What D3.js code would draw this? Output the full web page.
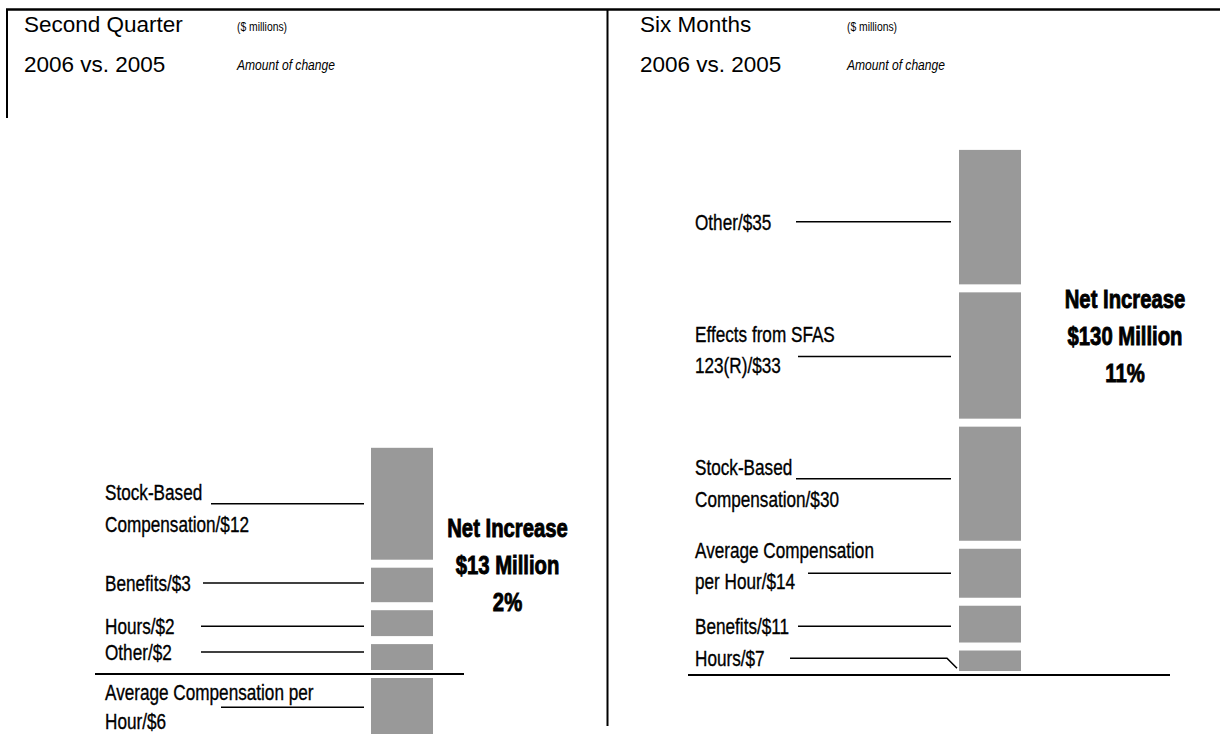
<!DOCTYPE html>
<html>
<head>
<meta charset="utf-8">
<script src="https://cdn.jsdelivr.net/npm/d3@7"></script>
<style>
  body { margin: 0; background: #fff; }
  svg { display: block; }
  text { font-family: "Liberation Sans", Arial, sans-serif; fill: #000; }
  text.label { stroke: #000; stroke-width: 0.35; }
  text.net { stroke: #000; stroke-width: 0.9; }
</style>
</head>
<body>
<svg id="chart" width="1220" height="734"></svg>
<script>
// ---- Data ($ millions, amount of change), bottom of each stack first ----
const quarterCategories = ["Other", "Hours", "Benefits", "Stock-Based Compensation", "Average Compensation per Hour"];
const quarterValues = [2, 2, 3, 12, -6];
const quarterLabels = [["Other/$2"], ["Hours/$2"], ["Benefits/$3"], ["Stock-Based", "Compensation/$12"], ["Average Compensation per", "Hour/$6"]];
const quarterNet = 13;
const quarterPct = 2;

const sixMonthCategories = ["Hours", "Benefits", "Average Compensation per Hour", "Stock-Based Compensation", "Effects from SFAS 123(R)", "Other"];
const sixMonthValues = [7, 11, 14, 30, 33, 35];
const sixMonthLabels = [["Hours/$7"], ["Benefits/$11"], ["Average Compensation", "per Hour/$14"], ["Stock-Based", "Compensation/$30"], ["Effects from SFAS", "123(R)/$33"], ["Other/$35"]];
const sixMonthNet = 130;
const sixMonthPct = 11;

const panelTitles = [["Second Quarter", "2006 vs. 2005"], ["Six Months", "2006 vs. 2005"]];
const unitNote = "($ millions)";
const changeNote = "Amount of change";

// ---- Layout ----
const layouts = [
  {
    data: { cats: quarterCategories, vals: quarterValues, labels: quarterLabels, net: quarterNet, pct: quarterPct, title: panelTitles[0] },
    baseline: 674, pxPerUnit: 8.6, segPad: 16.7, barX: 371, barW: 62,
    axisX: [95, 464], labelX: 105, leaderEnd: 364,
    leaderStart: [201, 201, 203, 211, 221],
    leaderDy: [-5, 3, -2, 0, -1],
    mode: ["inline", "inline", "inline", "first", "under"],
    netX: 507.5, netY: 537, titleX: 24, noteX: 237
  },
  {
    data: { cats: sixMonthCategories, vals: sixMonthValues, labels: sixMonthLabels, net: sixMonthNet, pct: sixMonthPct, title: panelTitles[1] },
    baseline: 675, pxPerUnit: 4.07, segPad: 0, barX: 959, barW: 62,
    axisX: [688, 1170], labelX: 695, leaderEnd: 951,
    leaderStart: [790, 798, 808, 796, 798, 796],
    leaderDy: [-2.5, 2, 0, -5, 1, 4.5],
    mode: ["elbow", "inline", "middle", "first", "middle", "inline"],
    netX: 1125, netY: 308, titleX: 640, noteX: 847
  }
];

const BAR_FILL = "#999999";
const INSET = 4;          // white gap kept on each side of a segment
const LINE_W = 1.5;
const CONDENSE = 0.78;    // horizontal squeeze for the condensed face

const svg = d3.select("#chart");

// Condensed text: a regular face squeezed horizontally around its anchor
function condText(sel, x, y, str, size, opts = {}) {
  const t = sel.append("text")
    .attr("transform", `translate(${x},${y}) scale(${CONDENSE},1)`)
    .attr("font-size", size)
    .text(str);
  if (opts.cls) t.attr("class", opts.cls);
  if (opts.anchor) t.attr("text-anchor", opts.anchor);
  if (opts.bold) t.attr("font-weight", "bold");
  if (opts.italic) t.attr("font-style", "italic");
  return t;
}

// Frame rules
const frame = svg.append("g").attr("stroke", "#000").attr("fill", "none");
frame.append("line").attr("x1", 6).attr("x2", 1220).attr("y1", 9.5).attr("y2", 9.5).attr("stroke-width", 2.5);
frame.append("line").attr("x1", 7).attr("x2", 7).attr("y1", 9).attr("y2", 118).attr("stroke-width", 2);
frame.append("line").attr("x1", 607.5).attr("x2", 607.5).attr("y1", 9).attr("y2", 726).attr("stroke-width", 2);

// Offsets of text baselines from the leader line, by label style
const baselineOffsets = {
  inline: [8],
  elbow: [8],
  first: [-4, 28],
  middle: [-15, 16],
  under: [-7, 22]
};

layouts.forEach(L => {
  const g = svg.append("g");
  const d = L.data;

  // Titles and notes
  d.title.forEach((t, i) => {
    g.append("text")
      .attr("x", L.titleX).attr("y", 32 + i * 40)
      .attr("font-size", 22.5).text(t);
  });
  condText(g, L.noteX, 31, unitNote, 13.3);
  condText(g, L.noteX, 70, changeNote, 15.5, { italic: true });

  // Value scale: pixels measured from the baseline
  const maxAbs = d3.sum(d.vals, v => Math.abs(v));
  const y = d3.scaleLinear().domain([0, maxAbs]).range([0, maxAbs * L.pxPerUnit]);

  // Stack positive values upward and negative values downward
  let posPx = 0, negPx = 0;
  const segs = d.vals.map((v, i) => {
    const span = y(Math.abs(v)) + L.segPad;
    let top, bottom;
    if (v >= 0) {
      bottom = L.baseline - posPx;
      top = bottom - span;
      posPx += span;
    } else {
      top = L.baseline + negPx;
      bottom = top + span;
      negPx += span;
    }
    return { cat: d.cats[i], v, label: d.labels[i], top: top + INSET, bottom: bottom - INSET, i };
  });

  g.selectAll("rect.seg").data(segs).join("rect")
    .attr("class", "seg")
    .attr("x", L.barX).attr("width", L.barW)
    .attr("y", s => s.top).attr("height", s => s.bottom - s.top)
    .attr("fill", BAR_FILL);

  // Baseline
  g.append("line").attr("x1", L.axisX[0]).attr("x2", L.axisX[1])
    .attr("y1", L.baseline).attr("y2", L.baseline)
    .attr("stroke", "#000").attr("stroke-width", 2);

  // Labels with leader lines
  segs.forEach(s => {
    const mode = L.mode[s.i];
    const ly = (s.top + s.bottom) / 2 + L.leaderDy[s.i];
    const offs = baselineOffsets[mode];
    s.label.forEach((t, k) => condText(g, L.labelX, ly + offs[k], t, 22, { cls: "label" }));
    const x0 = L.leaderStart[s.i];
    const path = mode === "elbow"
      ? `M${x0},${ly}H${L.leaderEnd - 4}L${L.barX - 2},${ly + 10}`
      : `M${x0},${ly}H${L.leaderEnd}`;
    g.append("path").attr("d", path).attr("fill", "none")
      .attr("stroke", "#000").attr("stroke-width", LINE_W);
  });

  // Net change callout
  [`Net Increase`, `$${d.net} Million`, `${d.pct}%`].forEach((t, k) => {
    condText(g, L.netX, L.netY + k * 37, t, 26, { anchor: "middle", bold: true, cls: "net" });
  });
});
</script>
</body>
</html>
